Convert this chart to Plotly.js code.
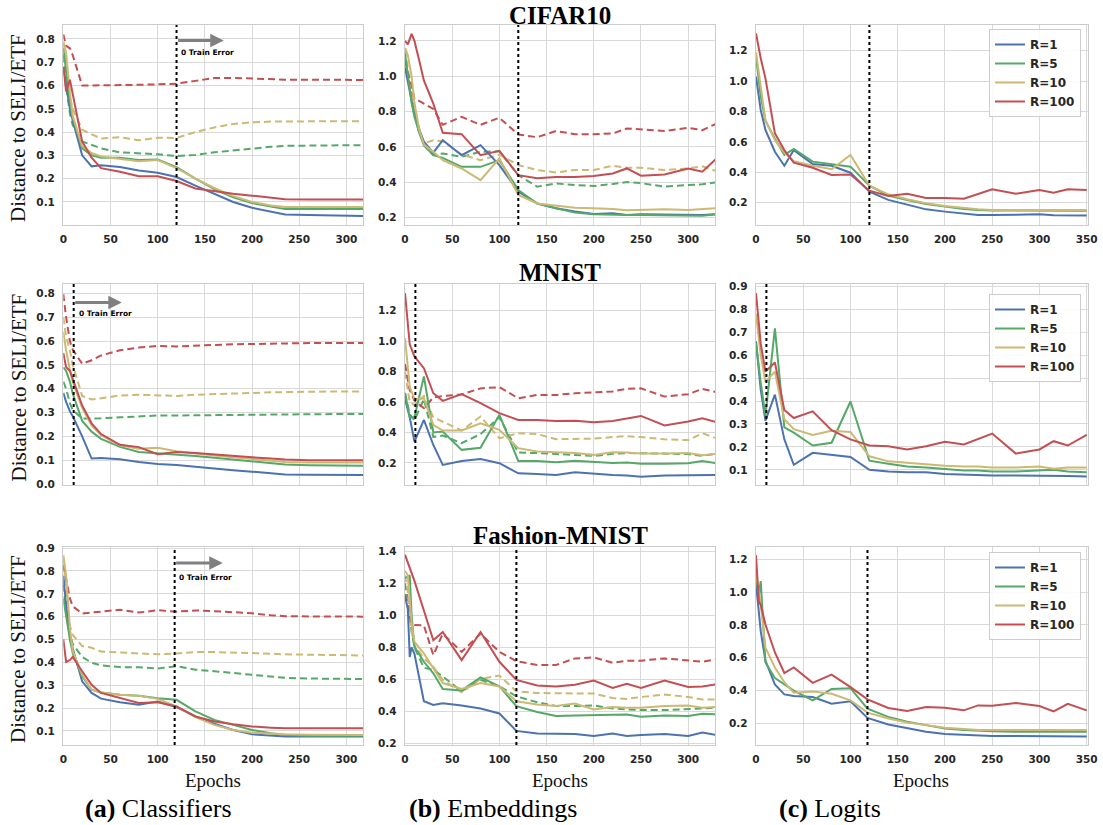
<!DOCTYPE html>
<html><head><meta charset="utf-8">
<script src="https://cdn.plot.ly/plotly-3.0.1.min.js"></script>
<style>html,body{margin:0;padding:0;background:#fff}</style>
</head><body><div id="chart" style="width:1103px;height:825px"></div>
<script>
// ---------------- DATA ----------------
const seriesNames = ["R=1", "R=5", "R=10", "R=100"];
const datasetTitles = ["CIFAR10", "MNIST", "Fashion-MNIST"];
const columnCaptions = ["<b>(a)</b> Classifiers", "<b>(b)</b> Embeddings", "<b>(c)</b> Logits"];
const zeroTrainErrorEpoch = [120, 11, 118];

// (a) Classifiers
const clsEpochs = [0, 3, 7, 10, 20, 30, 40, 60, 80, 100, 120, 140, 160, 180, 200, 220, 235, 260, 290, 320];
// CIFAR10
const cifarClsR1 = [0.68, 0.60, 0.50, 0.45, 0.30, 0.253, 0.258, 0.25, 0.235, 0.225, 0.207, 0.17, 0.135, 0.10, 0.075, 0.057, 0.046, 0.044, 0.042, 0.04];
const cifarClsR5 = [0.76, 0.66, 0.53, 0.46, 0.33, 0.30, 0.29, 0.29, 0.28, 0.282, 0.25, 0.20, 0.155, 0.12, 0.095, 0.08, 0.07, 0.07, 0.07, 0.07];
const cifarClsR10 = [0.79, 0.74, 0.57, 0.47, 0.34, 0.31, 0.295, 0.285, 0.275, 0.28, 0.245, 0.20, 0.16, 0.125, 0.10, 0.085, 0.078, 0.078, 0.078, 0.078];
const cifarClsR100 = [0.68, 0.575, 0.625, 0.56, 0.36, 0.29, 0.245, 0.23, 0.21, 0.21, 0.19, 0.158, 0.145, 0.135, 0.127, 0.118, 0.112, 0.11, 0.11, 0.11];
const cifarClsR5Dash = [0.73, 0.60, 0.48, 0.43, 0.36, 0.345, 0.33, 0.313, 0.31, 0.305, 0.297, 0.302, 0.313, 0.322, 0.33, 0.337, 0.341, 0.343, 0.343, 0.344];
const cifarClsR10Dash = [0.78, 0.70, 0.55, 0.50, 0.41, 0.39, 0.372, 0.378, 0.365, 0.376, 0.375, 0.40, 0.42, 0.435, 0.442, 0.445, 0.446, 0.447, 0.447, 0.447];
const cifarClsR100Dash = [0.82, 0.77, 0.76, 0.73, 0.60, 0.60, 0.60, 0.60, 0.603, 0.605, 0.608, 0.62, 0.632, 0.633, 0.63, 0.628, 0.625, 0.625, 0.625, 0.624];
// MNIST
const mnistClsR1 = [0.383, 0.345, 0.305, 0.285, 0.20, 0.107, 0.109, 0.104, 0.093, 0.084, 0.08, 0.072, 0.065, 0.058, 0.052, 0.046, 0.04, 0.039, 0.038, 0.038];
const mnistClsR5 = [0.49, 0.475, 0.43, 0.38, 0.265, 0.22, 0.19, 0.156, 0.135, 0.13, 0.125, 0.118, 0.11, 0.102, 0.094, 0.088, 0.082, 0.079, 0.078, 0.077];
const mnistClsR10 = [0.64, 0.56, 0.48, 0.43, 0.32, 0.245, 0.205, 0.163, 0.148, 0.152, 0.138, 0.128, 0.12, 0.112, 0.105, 0.098, 0.093, 0.09, 0.09, 0.09];
const mnistClsR100 = [0.55, 0.49, 0.475, 0.44, 0.33, 0.255, 0.21, 0.165, 0.155, 0.125, 0.135, 0.13, 0.123, 0.117, 0.112, 0.107, 0.103, 0.10, 0.10, 0.10];
const mnistClsR5Dash = [0.43, 0.40, 0.34, 0.31, 0.275, 0.274, 0.276, 0.28, 0.284, 0.288, 0.288, 0.289, 0.29, 0.291, 0.292, 0.293, 0.293, 0.294, 0.294, 0.294];
const mnistClsR10Dash = [0.70, 0.62, 0.56, 0.50, 0.37, 0.355, 0.36, 0.372, 0.375, 0.372, 0.37, 0.375, 0.378, 0.38, 0.383, 0.385, 0.386, 0.388, 0.389, 0.389];
const mnistClsR100Dash = [0.797, 0.70, 0.60, 0.565, 0.505, 0.52, 0.54, 0.562, 0.573, 0.58, 0.578, 0.582, 0.585, 0.587, 0.588, 0.59, 0.59, 0.592, 0.592, 0.592];
// Fashion-MNIST
const fmnistClsR1 = [0.78, 0.65, 0.52, 0.46, 0.317, 0.266, 0.241, 0.225, 0.214, 0.228, 0.204, 0.163, 0.131, 0.104, 0.085, 0.079, 0.075, 0.075, 0.075, 0.075];
const fmnistClsR5 = [0.68, 0.60, 0.50, 0.44, 0.339, 0.28, 0.268, 0.258, 0.254, 0.243, 0.236, 0.185, 0.148, 0.126, 0.104, 0.089, 0.082, 0.079, 0.078, 0.078];
const fmnistClsR10 = [0.87, 0.78, 0.55, 0.45, 0.346, 0.28, 0.268, 0.258, 0.254, 0.24, 0.207, 0.16, 0.126, 0.104, 0.092, 0.087, 0.085, 0.083, 0.082, 0.082];
const fmnistClsR100 = [0.50, 0.402, 0.41, 0.424, 0.361, 0.302, 0.266, 0.243, 0.222, 0.225, 0.207, 0.163, 0.141, 0.129, 0.119, 0.114, 0.111, 0.111, 0.111, 0.111];
const fmnistClsR5Dash = [0.74, 0.62, 0.52, 0.48, 0.424, 0.398, 0.387, 0.379, 0.378, 0.373, 0.383, 0.368, 0.361, 0.354, 0.346, 0.339, 0.332, 0.329, 0.328, 0.327];
const fmnistClsR10Dash = [0.86, 0.70, 0.56, 0.52, 0.471, 0.464, 0.447, 0.442, 0.437, 0.435, 0.439, 0.445, 0.445, 0.443, 0.442, 0.438, 0.435, 0.433, 0.431, 0.43];
const fmnistClsR100Dash = [0.827, 0.77, 0.68, 0.645, 0.614, 0.618, 0.622, 0.63, 0.618, 0.628, 0.622, 0.627, 0.624, 0.621, 0.615, 0.606, 0.602, 0.601, 0.60, 0.60];

// (b) Embeddings
const cifarEmbEpochs = [0, 3, 7, 10, 15, 20, 30, 40, 60, 80, 100, 120, 140, 160, 180, 200, 220, 235, 250, 275, 300, 315, 330];
const cifarEmbR1 = [1.05, 0.97, 0.85, 0.78, 0.70, 0.63, 0.568, 0.638, 0.553, 0.61, 0.497, 0.347, 0.28, 0.253, 0.234, 0.22, 0.224, 0.215, 0.219, 0.219, 0.215, 0.215, 0.22];
const cifarEmbR5 = [1.13, 1.00, 0.85, 0.77, 0.68, 0.61, 0.553, 0.538, 0.487, 0.487, 0.525, 0.356, 0.28, 0.253, 0.228, 0.219, 0.215, 0.215, 0.215, 0.213, 0.211, 0.21, 0.219];
const cifarEmbR10 = [1.16, 1.12, 1.00, 0.85, 0.70, 0.613, 0.572, 0.525, 0.478, 0.412, 0.535, 0.328, 0.28, 0.268, 0.256, 0.253, 0.249, 0.241, 0.243, 0.247, 0.243, 0.247, 0.253];
const cifarEmbR100 = [1.20, 1.18, 1.24, 1.20, 1.09, 0.976, 0.845, 0.68, 0.672, 0.553, 0.578, 0.44, 0.422, 0.43, 0.43, 0.435, 0.45, 0.478, 0.437, 0.444, 0.478, 0.46, 0.535];
const cifarEmbR5Dash = [1.10, 1.00, 0.88, 0.80, 0.70, 0.61, 0.553, 0.563, 0.544, 0.572, 0.575, 0.44, 0.375, 0.393, 0.384, 0.379, 0.39, 0.401, 0.395, 0.375, 0.384, 0.388, 0.40];
const cifarEmbR10Dash = [1.15, 1.05, 0.90, 0.80, 0.68, 0.62, 0.638, 0.632, 0.557, 0.525, 0.557, 0.497, 0.469, 0.455, 0.469, 0.469, 0.493, 0.482, 0.482, 0.469, 0.478, 0.49, 0.463];
const cifarEmbR100Dash = [1.09, 1.02, 0.95, 0.87, 0.86, 0.845, 0.815, 0.725, 0.77, 0.725, 0.765, 0.67, 0.655, 0.69, 0.672, 0.672, 0.676, 0.704, 0.698, 0.69, 0.708, 0.695, 0.732];

const mnistEmbEpochs = [0, 5, 10, 20, 30, 40, 60, 80, 100, 120, 140, 160, 180, 200, 220, 235, 250, 275, 300, 315, 330];
const mnistEmbR1 = [0.62, 0.50, 0.34, 0.483, 0.318, 0.187, 0.213, 0.226, 0.198, 0.132, 0.128, 0.121, 0.139, 0.128, 0.121, 0.117, 0.11, 0.117, 0.117, 0.121, 0.121];
const mnistEmbR5 = [0.66, 0.50, 0.50, 0.768, 0.40, 0.406, 0.286, 0.30, 0.516, 0.213, 0.213, 0.205, 0.215, 0.209, 0.20, 0.203, 0.194, 0.194, 0.198, 0.213, 0.198];
const mnistEmbR10 = [1.02, 0.70, 0.62, 0.625, 0.45, 0.413, 0.413, 0.461, 0.417, 0.297, 0.275, 0.27, 0.265, 0.253, 0.27, 0.268, 0.262, 0.262, 0.265, 0.25, 0.26];
const mnistEmbR100 = [1.316, 0.98, 0.90, 0.823, 0.658, 0.608, 0.652, 0.593, 0.527, 0.483, 0.483, 0.476, 0.478, 0.468, 0.476, 0.494, 0.509, 0.446, 0.472, 0.494, 0.468];
const mnistEmbR5Dash = [0.66, 0.52, 0.48, 0.62, 0.37, 0.38, 0.33, 0.39, 0.50, 0.268, 0.265, 0.26, 0.255, 0.246, 0.26, 0.265, 0.264, 0.262, 0.258, 0.247, 0.26];
const mnistEmbR10Dash = [0.80, 0.60, 0.58, 0.64, 0.50, 0.47, 0.413, 0.505, 0.362, 0.395, 0.39, 0.356, 0.356, 0.36, 0.37, 0.376, 0.37, 0.355, 0.35, 0.395, 0.362];
const mnistEmbR100Dash = [0.85, 0.68, 0.61, 0.56, 0.63, 0.64, 0.65, 0.69, 0.698, 0.625, 0.647, 0.647, 0.658, 0.663, 0.67, 0.687, 0.69, 0.636, 0.652, 0.687, 0.665];

const fmnistEmbEpochs = [0, 3, 5, 7, 10, 20, 30, 40, 60, 80, 100, 118, 140, 160, 180, 200, 220, 235, 250, 275, 300, 315, 330];
const fmnistEmbR1 = [1.12, 1.04, 0.74, 0.80, 0.76, 0.463, 0.44, 0.451, 0.437, 0.418, 0.387, 0.278, 0.262, 0.262, 0.258, 0.247, 0.262, 0.247, 0.253, 0.258, 0.247, 0.268, 0.253];
const fmnistEmbR5 = [1.235, 1.24, 1.25, 1.00, 0.803, 0.71, 0.638, 0.54, 0.531, 0.612, 0.556, 0.433, 0.396, 0.371, 0.375, 0.377, 0.377, 0.381, 0.367, 0.375, 0.371, 0.385, 0.381];
const fmnistEmbR10 = [1.277, 1.25, 1.10, 0.95, 0.834, 0.762, 0.669, 0.577, 0.54, 0.577, 0.556, 0.463, 0.443, 0.433, 0.449, 0.412, 0.428, 0.422, 0.422, 0.433, 0.437, 0.422, 0.428];
const fmnistEmbR100 = [1.379, 1.328, 1.287, 1.26, 1.215, 1.03, 0.844, 0.896, 0.72, 0.896, 0.71, 0.597, 0.562, 0.556, 0.566, 0.593, 0.546, 0.572, 0.546, 0.593, 0.552, 0.556, 0.57];
const fmnistEmbR5Dash = [1.20, 1.10, 1.00, 0.90, 0.80, 0.673, 0.659, 0.618, 0.525, 0.597, 0.556, 0.494, 0.457, 0.433, 0.433, 0.437, 0.418, 0.412, 0.408, 0.408, 0.416, 0.418, 0.422];
const fmnistEmbR10Dash = [1.25, 1.15, 1.00, 0.90, 0.813, 0.731, 0.68, 0.597, 0.52, 0.603, 0.624, 0.525, 0.515, 0.515, 0.511, 0.511, 0.484, 0.478, 0.49, 0.505, 0.49, 0.474, 0.474];
const fmnistEmbR100Dash = [1.132, 1.04, 1.00, 0.95, 0.94, 0.937, 0.752, 0.885, 0.772, 0.885, 0.772, 0.714, 0.69, 0.69, 0.731, 0.737, 0.704, 0.717, 0.717, 0.731, 0.72, 0.71, 0.725];

// (c) Logits
const logitEpochs = [0, 5, 10, 20, 30, 40, 60, 80, 100, 120, 140, 160, 180, 200, 220, 235, 250, 275, 300, 315, 330, 350];
const cifarLogR1 = [1.03, 0.81, 0.678, 0.535, 0.443, 0.546, 0.454, 0.443, 0.397, 0.272, 0.218, 0.185, 0.156, 0.141, 0.13, 0.119, 0.119, 0.119, 0.123, 0.117, 0.115, 0.115];
const cifarLogR5 = [1.16, 0.90, 0.74, 0.62, 0.514, 0.553, 0.47, 0.452, 0.437, 0.312, 0.246, 0.218, 0.191, 0.174, 0.158, 0.152, 0.148, 0.148, 0.147, 0.147, 0.147, 0.147];
const cifarLogR10 = [1.19, 0.95, 0.74, 0.612, 0.53, 0.472, 0.443, 0.42, 0.514, 0.312, 0.255, 0.222, 0.196, 0.178, 0.163, 0.156, 0.152, 0.152, 0.152, 0.152, 0.152, 0.152];
const cifarLogR100 = [1.314, 1.15, 1.018, 0.656, 0.546, 0.463, 0.43, 0.382, 0.386, 0.279, 0.244, 0.259, 0.231, 0.231, 0.226, 0.257, 0.288, 0.259, 0.283, 0.266, 0.288, 0.283];
const mnistLogR1 = [0.66, 0.45, 0.314, 0.428, 0.233, 0.122, 0.174, 0.166, 0.156, 0.10, 0.093, 0.09, 0.09, 0.082, 0.078, 0.078, 0.075, 0.075, 0.075, 0.074, 0.073, 0.071];
const mnistLogR5 = [0.653, 0.48, 0.336, 0.717, 0.285, 0.262, 0.206, 0.218, 0.398, 0.14, 0.127, 0.115, 0.11, 0.104, 0.097, 0.097, 0.093, 0.093, 0.096, 0.10, 0.093, 0.09];
const mnistLogR10 = [0.78, 0.60, 0.484, 0.528, 0.321, 0.277, 0.252, 0.27, 0.265, 0.159, 0.137, 0.13, 0.125, 0.118, 0.115, 0.115, 0.11, 0.11, 0.115, 0.105, 0.11, 0.11];
const mnistLogR100 = [0.87, 0.65, 0.528, 0.568, 0.361, 0.326, 0.355, 0.273, 0.233, 0.206, 0.203, 0.189, 0.203, 0.222, 0.211, 0.236, 0.258, 0.171, 0.189, 0.225, 0.206, 0.252];
const fmnistLogEpochs = [0, 3, 5, 10, 20, 30, 40, 60, 80, 100, 118, 140, 160, 180, 200, 220, 235, 250, 275, 300, 315, 330, 350];
const fmnistLogR1 = [1.053, 0.90, 0.762, 0.582, 0.437, 0.377, 0.367, 0.361, 0.32, 0.335, 0.234, 0.194, 0.17, 0.15, 0.136, 0.13, 0.126, 0.124, 0.124, 0.124, 0.124, 0.122, 0.12];
const fmnistLogR5 = [1.094, 0.98, 1.067, 0.571, 0.477, 0.441, 0.40, 0.34, 0.41, 0.415, 0.29, 0.24, 0.21, 0.19, 0.17, 0.16, 0.156, 0.152, 0.15, 0.15, 0.15, 0.15, 0.15];
const fmnistLogR10 = [1.114, 1.00, 0.923, 0.662, 0.541, 0.451, 0.387, 0.395, 0.381, 0.341, 0.266, 0.23, 0.206, 0.19, 0.174, 0.166, 0.16, 0.16, 0.16, 0.16, 0.16, 0.16, 0.16];
const fmnistLogR100 = [1.224, 0.943, 0.923, 0.802, 0.632, 0.507, 0.541, 0.447, 0.497, 0.421, 0.347, 0.294, 0.276, 0.30, 0.296, 0.28, 0.31, 0.308, 0.325, 0.306, 0.274, 0.32, 0.28];

// ---------------- STYLE / LAYOUT ----------------
const COLORS = ["#4C72B0", "#55A868", "#CCB974", "#C44E52"];
const W = 1103, H = 825;
const colPx = [[63.3, 363], [405, 715], [756, 1088]];
const rowPx = [[25, 225], [284, 485], [547, 745]];
const xRanges = [[0, 317.6], [0, 328.4], [0, 351.4]];
const yRanges = [
  [[0.001, 0.86], [0.158, 1.29], [0.053, 1.369]],
  [[-0.004, 0.84], [0.055, 1.376], [0.034, 0.91]],
  [[0.038, 0.905], [0.19, 1.427], [0.069, 1.274]]
];
const yDticks = [[0.1, 0.2, 0.2], [0.1, 0.2, 0.1], [0.1, 0.2, 0.2]];

const panels = [
  [ {x: clsEpochs, s: [cifarClsR1, cifarClsR5, cifarClsR10, cifarClsR100], d: [null, cifarClsR5Dash, cifarClsR10Dash, cifarClsR100Dash]},
    {x: cifarEmbEpochs, s: [cifarEmbR1, cifarEmbR5, cifarEmbR10, cifarEmbR100], d: [null, cifarEmbR5Dash, cifarEmbR10Dash, cifarEmbR100Dash]},
    {x: logitEpochs, s: [cifarLogR1, cifarLogR5, cifarLogR10, cifarLogR100], d: null} ],
  [ {x: clsEpochs, s: [mnistClsR1, mnistClsR5, mnistClsR10, mnistClsR100], d: [null, mnistClsR5Dash, mnistClsR10Dash, mnistClsR100Dash]},
    {x: mnistEmbEpochs, s: [mnistEmbR1, mnistEmbR5, mnistEmbR10, mnistEmbR100], d: [null, mnistEmbR5Dash, mnistEmbR10Dash, mnistEmbR100Dash]},
    {x: logitEpochs, s: [mnistLogR1, mnistLogR5, mnistLogR10, mnistLogR100], d: null} ],
  [ {x: clsEpochs, s: [fmnistClsR1, fmnistClsR5, fmnistClsR10, fmnistClsR100], d: [null, fmnistClsR5Dash, fmnistClsR10Dash, fmnistClsR100Dash]},
    {x: fmnistEmbEpochs, s: [fmnistEmbR1, fmnistEmbR5, fmnistEmbR10, fmnistEmbR100], d: [null, fmnistEmbR5Dash, fmnistEmbR10Dash, fmnistEmbR100Dash]},
    {x: fmnistLogEpochs, s: [fmnistLogR1, fmnistLogR5, fmnistLogR10, fmnistLogR100], d: null} ]
];

const tickFont = {family: "DejaVu Sans", size: 10.5, color: "#262626", weight: "bold"};
const traces = [];
const layout = {
  width: W, height: H, margin: {l: 0, r: 0, t: 0, b: 0},
  paper_bgcolor: "#fff", plot_bgcolor: "#fff",
  font: {family: "DejaVu Sans", color: "#262626"},
  annotations: [], shapes: [], showlegend: true
};
const legendIds = ["legend", "legend2", "legend3"];

for (let r = 0; r < 3; r++) {
  for (let c = 0; c < 3; c++) {
    const k = r * 3 + c + 1;
    const xn = k === 1 ? "x" : "x" + k;
    const yn = k === 1 ? "y" : "y" + k;
    const xk = k === 1 ? "xaxis" : "xaxis" + k;
    const yk = k === 1 ? "yaxis" : "yaxis" + k;
    layout[xk] = {
      domain: [colPx[c][0] / W, colPx[c][1] / W], anchor: yn,
      range: xRanges[c], tickmode: "linear", tick0: 0, dtick: 50,
      showticklabels: r !== 1, tickfont: tickFont, ticks: "", ticklabelstandoff: 4,
      showgrid: true, gridcolor: "#d9d9d9", gridwidth: 1, zeroline: false,
      showline: true, mirror: true, linecolor: "#cccccc", linewidth: 1.25
    };
    layout[yk] = {
      domain: [1 - rowPx[r][1] / H, 1 - rowPx[r][0] / H], anchor: xn,
      range: yRanges[r][c], tickmode: "linear", tick0: 0, dtick: yDticks[r][c],
      tickformat: ".1f", tickfont: tickFont, ticks: "", ticklabelstandoff: 5,
      showgrid: true, gridcolor: "#d9d9d9", gridwidth: 1, zeroline: false,
      showline: true, mirror: true, linecolor: "#cccccc", linewidth: 1.25
    };
    const p = panels[r][c];
    for (let i = 0; i < 4; i++) {
      if (p.d && p.d[i]) {
        traces.push({x: p.x, y: p.d[i], xaxis: xn, yaxis: yn, mode: "lines", showlegend: false,
          line: {color: COLORS[i], width: 2, dash: "7px,4px"}, hoverinfo: "skip"});
      }
    }
    for (let i = 0; i < 4; i++) {
      const tr = {x: p.x, y: p.s[i], xaxis: xn, yaxis: yn, mode: "lines", name: seriesNames[i],
        line: {color: COLORS[i], width: 2}, showlegend: c === 2};
      if (c === 2) tr.legend = legendIds[r];
      traces.push(tr);
    }
    layout.shapes.push({type: "line", xref: xn, yref: yn + " domain", x0: zeroTrainErrorEpoch[r], x1: zeroTrainErrorEpoch[r], y0: 0, y1: 1,
      line: {color: "#000", width: 2, dash: "dot"}});
  }
  layout[legendIds[r]] = {
    x: 1081 / W, xanchor: "right", y: 1 - [29, 294, 552][r] / H, yanchor: "top",
    bgcolor: "rgba(255,255,255,0.85)", bordercolor: "#cccccc", borderwidth: 1,
    font: {family: "DejaVu Sans", size: 12, color: "#262626", weight: "bold"}, itemwidth: 30
  };
  layout.annotations.push({xref: "paper", yref: "paper", x: 560 / W, y: 1 - [15, 272, 535][r] / H, xanchor: "center", yanchor: "middle",
    text: "<b>" + datasetTitles[r] + "</b>", showarrow: false, font: {family: "Liberation Serif", size: 25, color: "#000"}});
  layout.annotations.push({xref: "paper", yref: "paper", x: 18 / W, y: 1 - ((rowPx[r][0] + rowPx[r][1]) / 2 + 3) / H, xanchor: "center", yanchor: "middle",
    text: "Distance to SELI/ETF", textangle: -90, showarrow: false, font: {family: "Liberation Serif", size: 21, color: "#111"}});
}

const arrowSpec = [
  {ax: "x", ay: "y", x0: 120, x1: 170, y: 0.793, tx: 123, ty: 0.743},
  {ax: "x4", ay: "y4", x0: 11, x1: 62, y: 0.762, tx: 14, ty: 0.717},
  {ax: "x7", ay: "y7", x0: 118, x1: 169, y: 0.835, tx: 121, ty: 0.772}
];
arrowSpec.forEach(a => {
  layout.annotations.push({xref: a.ax, yref: a.ay, x: a.x1, y: a.y, ax: a.x0, ay: a.y, axref: a.ax, ayref: a.ay,
    text: "", showarrow: true, arrowhead: 2, arrowsize: 0.9, arrowwidth: 3, arrowcolor: "#808080", standoff: 0, startstandoff: 0});
  layout.annotations.push({xref: a.ax, yref: a.ay, x: a.tx, y: a.ty, xanchor: "left", yanchor: "middle",
    text: "<b>0 Train Error</b>", showarrow: false, font: {family: "DejaVu Sans", size: 7.5, color: "#000"}});
});

for (let c = 0; c < 3; c++) {
  layout.annotations.push({xref: "paper", yref: "paper", x: [213, 560, 921][c] / W, y: 1 - 780 / H, xanchor: "center", yanchor: "middle",
    text: "Epochs", showarrow: false, font: {family: "Liberation Serif", size: 19, color: "#111"}});
  layout.annotations.push({xref: "paper", yref: "paper", x: [158, 493, 830][c] / W, y: 1 - 808 / H, xanchor: "center", yanchor: "middle",
    text: columnCaptions[c], showarrow: false, font: {family: "Liberation Serif", size: 26, color: "#000"}});
}

Plotly.newPlot("chart", traces, layout, {staticPlot: true, displayModeBar: false});
</script></body></html>
